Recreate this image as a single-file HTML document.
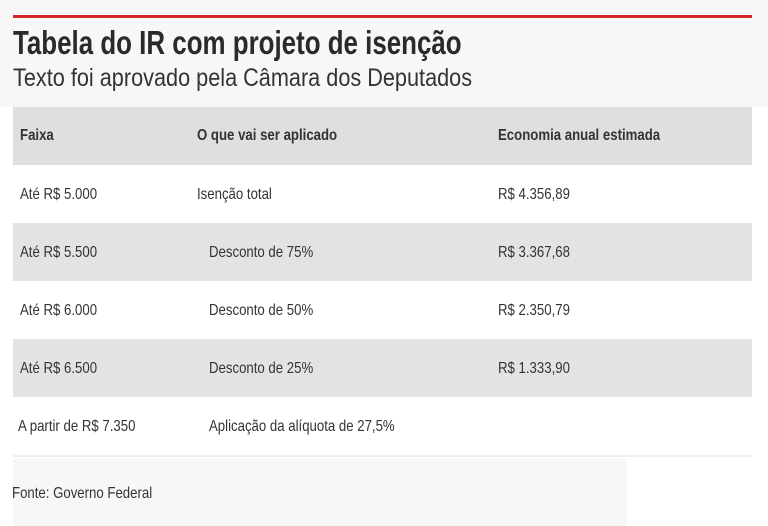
<!DOCTYPE html>
<html><head><meta charset="utf-8"><style>
body{margin:0;width:768px;height:526px;background:#fff;position:relative;overflow:hidden;font-family:"Liberation Sans",sans-serif;color:#333}
.t{position:absolute;white-space:nowrap;transform:scaleX(.825);transform-origin:0 50%;font-size:16px}
.r{position:absolute;left:13px;width:739px;height:58px}
</style></head><body>
<div style="position:absolute;left:0;top:0;width:768px;height:107px;background:#f7f7f7"></div>
<div style="position:absolute;left:13px;top:15px;width:739px;height:3px;background:#d9262b"></div>
<div class="t" style="left:13px;top:24px;font-size:33px;font-weight:bold;color:#2a2a2a;transform:scaleX(.785)">Tabela do IR com projeto de isenção</div>
<div class="t" style="left:13px;top:64px;font-size:25px;color:#333;transform:scaleX(.867)">Texto foi aprovado pela Câmara dos Deputados</div>
<div class="r" style="top:107px;background:#e0dfe0"></div>
<div class="r" style="top:165px;background:#fff"></div>
<div class="r" style="top:223px;background:#e3e3e3"></div>
<div class="r" style="top:281px;background:#fff"></div>
<div class="r" style="top:339px;background:#e3e3e3"></div>
<div class="r" style="top:397px;background:#fff;border-bottom:2px solid #eee"></div>
<div style="position:absolute;left:13px;top:459px;width:614px;height:67px;background:#f7f7f7"></div>
<div class="t" style="left:20px;top:127px;font-weight:bold">Faixa</div>
<div class="t" style="left:197px;top:127px;font-weight:bold">O que vai ser aplicado</div>
<div class="t" style="left:498px;top:127px;font-weight:bold">Economia anual estimada</div>
<div class="t" style="left:20px;top:186px">Até R$ 5.000</div>
<div class="t" style="left:197px;top:186px">Isenção total</div>
<div class="t" style="left:498px;top:186px">R$ 4.356,89</div>
<div class="t" style="left:20px;top:244px">Até R$ 5.500</div>
<div class="t" style="left:209px;top:244px">Desconto de 75%</div>
<div class="t" style="left:498px;top:244px">R$ 3.367,68</div>
<div class="t" style="left:20px;top:302px">Até R$ 6.000</div>
<div class="t" style="left:209px;top:302px">Desconto de 50%</div>
<div class="t" style="left:498px;top:302px">R$ 2.350,79</div>
<div class="t" style="left:20px;top:360px">Até R$ 6.500</div>
<div class="t" style="left:209px;top:360px">Desconto de 25%</div>
<div class="t" style="left:498px;top:360px">R$ 1.333,90</div>
<div class="t" style="left:18px;top:418px">A partir de R$ 7.350</div>
<div class="t" style="left:209px;top:418px">Aplicação da alíquota de 27,5%</div>
<div class="t" style="left:12px;top:485px">Fonte: Governo Federal</div>
</body></html>
